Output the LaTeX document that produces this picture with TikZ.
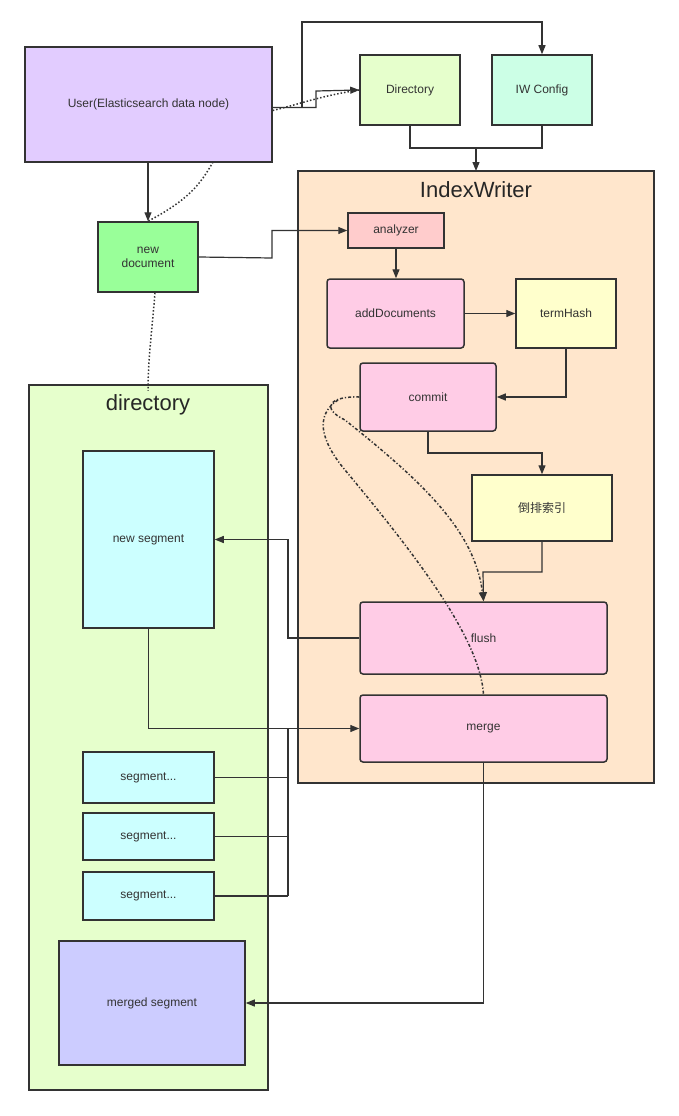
\documentclass[tikz,border=0pt]{standalone}
\usepackage{fontspec}
\setmainfont{Liberation Sans}
\newfontfamily\cjk{Noto Sans CJK SC}
\usetikzlibrary{arrows.meta}

\begin{document}
\begin{tikzpicture}[x=1pt,y=-1pt,line width=1.2pt,draw=black!80,>={Triangle[length=9pt,width=7pt]}] %% tikz
	\tikzstyle{blk}=[draw=black!80,line width=1.5pt,inner sep=2pt,font=\fontsize{12}{14}\selectfont,text=black!80,align=center];
	\tikzstyle{rbk}=[blk,rounded corners=3pt];
	\tikzstyle{grp}=[draw=black!80,line width=1.5pt];
	\tikzstyle{ttl}=[font=\fontsize{22}{26}\selectfont,text=black!85];
	\tikzstyle{dots}=[dotted,line width=1.5pt];
	\tikzstyle{dd}=[dash dot,line width=1.5pt];
	\useasboundingbox (0,0) rectangle (679,1116);
	%% containers
	\draw[grp,fill={rgb,255:red,255;green,230;blue,204}] (298,171) rectangle (654,783);
	\node[ttl] (iwt) at (476,190) {IndexWriter};
	\draw[grp,fill={rgb,255:red,230;green,255;blue,204}] (29,385) rectangle (268,1090);
	\node[ttl] (dirt) at (148,405) {directory};
	%% boxes
	\node[blk,fill={rgb,255:red,226;green,204;blue,255},minimum width=247,minimum height=115] (user) at (148.5,104.5) {User(Elasticsearch data node)};
	\node[blk,fill={rgb,255:red,230;green,255;blue,204},minimum width=100,minimum height=70] (dir) at (410,90) {Directory};
	\node[blk,fill={rgb,255:red,204;green,255;blue,230},minimum width=100,minimum height=70] (cfg) at (542,90) {IW Config};
	\node[blk,fill={rgb,255:red,153;green,255;blue,153},minimum width=100,minimum height=70] (doc) at (148,257) {new\\document};
	\node[blk,fill={rgb,255:red,255;green,204;blue,204},minimum width=96,minimum height=35] (ana) at (396,230.5) {analyzer};
	\node[rbk,fill={rgb,255:red,255;green,204;blue,230},minimum width=137,minimum height=69] (add) at (395.5,313.5) {addDocuments};
	\node[blk,fill={rgb,255:red,255;green,255;blue,204},minimum width=100,minimum height=69] (hash) at (566,313.5) {termHash};
	\node[rbk,fill={rgb,255:red,255;green,204;blue,230},minimum width=136,minimum height=68] (cmt) at (428,397) {commit};
	\node[blk,fill={rgb,255:red,255;green,255;blue,204},minimum width=140,minimum height=66] (inv) at (542,508) {{\cjk 倒排索引}};
	\node[rbk,fill={rgb,255:red,255;green,204;blue,230},minimum width=247,minimum height=72] (fl) at (483.5,638) {flush};
	\node[rbk,fill={rgb,255:red,255;green,204;blue,230},minimum width=247,minimum height=67] (mg) at (483.5,728.5) {merge};
	\node[blk,fill={rgb,255:red,204;green,255;blue,255},minimum width=131,minimum height=177] (nseg) at (148.5,539.5) {new segment};
	\foreach \n/\y/\h in {1/777.5/51,2/836.5/47,3/896/48}
		\node[blk,fill={rgb,255:red,204;green,255;blue,255},minimum width=131,minimum height=\h] (seg\n) at (148.5,\y) {segment...};
	\node[blk,fill={rgb,255:red,204;green,204;blue,255},minimum width=186,minimum height=124] (mseg) at (152,1003) {merged segment};
	%% connectors
	\draw[->] (user.east) ++(0,3) -- (302,107.5) -- (302,22) -| (cfg.north);
	\draw[->] (user.east) ++(0,3) -| (316,91) -- (dir.west);
	\draw[dots] (user.east) ++(0,6) .. controls (300,104) and (320,96) .. (dir.west);
	\draw (dir.south) |- (476,148) -| (cfg.south);
	\draw[->] (476,148) -- (476,171);
	\draw[->] (user.south) ++(-0.5,0) -- (doc.north);
	\draw[dots] (213,162) .. controls (200,185) and (188,200) .. (doc.north) ++(32,0);
	\draw[dots] (doc.south) ++(7,0) .. controls (152,330) and (148,360) .. (dirt.north) ++(0,-5);
	\draw[->] (doc.east) -- (272,258) |- (ana.west);
	\draw[->] (ana.south) -- (add.north -| ana.south);
	\draw[->] (add.east) -- (hash.west);
	\draw[->] (hash.south) |- (cmt.east);
	\draw[->] (cmt.south) |- (542,453) -- (inv.north);
	\draw[->] (inv.south) |- (483,572) -- (fl.north);
	\draw[dd,->] (cmt.west) .. controls (330,396) and (320,408) .. (345,420) .. controls (420,480) and (475,530) .. (fl.north);
	\draw[dd] (338,400) .. controls (315,415) and (320,440) .. (345,470) .. controls (420,560) and (480,640) .. (mg.north);
	\draw[->] (fl.west) -- (288,638) |- (nseg.east);
	\draw[->] (nseg.south) |- (mg.west);
	\foreach \n in {1,2,3}
		\draw (seg\n.east) -- (seg\n.east -| 288,0);
	\draw (288,896) -- (288,728);
	\draw[->] (mg.south) |- (mseg.east);
\end{tikzpicture}
\end{document}
